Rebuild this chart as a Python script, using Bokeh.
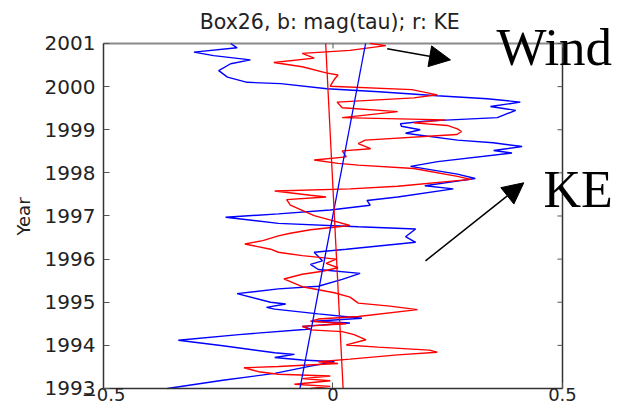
import math
from bokeh.plotting import figure
from bokeh.models import Range1d, FixedTicker, Label, Arrow, NormalHead
from bokeh.embed import file_html
from bokeh.resources import INLINE

# ---- data ----
blue_year = [1993.00, 1993.19, 1993.35, 1993.52, 1993.62, 1993.66, 1993.72, 1993.79, 1993.83, 1993.99,
             1994.12, 1994.25, 1994.38, 1994.44, 1994.52, 1994.56, 1994.63, 1994.73, 1994.84, 1994.88,
             1994.96, 1995.00, 1995.20, 1995.31, 1995.37, 1995.53, 1995.67, 1995.76, 1995.88, 1995.96,
             1996.16, 1996.23, 1996.39, 1996.52, 1996.70, 1996.75, 1996.83, 1996.97, 1997.05, 1997.14,
             1997.25, 1997.36, 1997.44, 1997.63, 1997.70, 1997.81, 1997.87, 1997.97, 1998.15, 1998.26,
             1998.46, 1998.52, 1998.61, 1998.70, 1998.76, 1998.92, 1999.00, 1999.08, 1999.14, 1999.20,
             1999.28, 1999.45, 1999.54, 1999.64, 1999.72, 1999.79, 1999.88, 1999.95, 2000.07, 2000.10,
             2000.22, 2000.37, 2000.53, 2000.62, 2000.72, 2000.80, 2000.90, 2001.00]
blue_val = [-0.361, -0.240, -0.127, -0.049, 0.003, -0.067, -0.127, -0.084, -0.127, -0.240,
            -0.337, -0.205, -0.049, -0.067, 0.037, -0.041, 0.063, -0.032, -0.127, -0.145,
            -0.103, -0.136, -0.209, -0.119, -0.032, 0.020, 0.059, -0.032, -0.049, -0.023,
            -0.041, 0.029, 0.180, 0.158, 0.180, 0.055, -0.119, -0.234, -0.119, -0.006,
            0.081, 0.074, 0.141, 0.262, 0.200, 0.271, 0.310, 0.271, 0.169, 0.228,
            0.390, 0.350, 0.412, 0.349, 0.271, 0.158, 0.190, 0.149, 0.147, 0.200,
            0.358, 0.398, 0.343, 0.408, 0.336, 0.227, 0.100, -0.013, -0.114, -0.187,
            -0.230, -0.249, -0.223, -0.180, -0.260, -0.303, -0.209, -0.223]

red_year = [1993.00, 1993.05, 1993.10, 1993.18, 1993.23, 1993.29, 1993.33, 1993.39, 1993.48, 1993.51,
            1993.58, 1993.62, 1993.68, 1993.78, 1993.84, 1993.89, 1993.96, 1994.01, 1994.13, 1994.25,
            1994.32, 1994.36, 1994.44, 1994.50, 1994.56, 1994.61, 1994.67, 1994.83, 1994.91, 1994.98,
            1995.12, 1995.22, 1995.36, 1995.54, 1995.65, 1995.72, 1995.80, 1995.90, 1996.00, 1996.08,
            1996.16, 1996.23, 1996.35, 1996.43, 1996.54, 1996.60, 1996.68, 1996.78, 1996.88, 1997.01,
            1997.13, 1997.25, 1997.38, 1997.44, 1997.48, 1997.58, 1997.63, 1997.69, 1997.85, 1997.92,
            1998.10, 1998.18, 1998.22, 1998.30, 1998.37, 1998.51, 1998.56, 1998.68, 1998.76, 1998.89,
            1998.96, 1999.02, 1999.10, 1999.16, 1999.23, 1999.28, 1999.42, 1999.51, 1999.64, 1999.74,
            1999.81, 1999.93, 2000.01, 2000.17, 2000.27, 2000.32, 2000.46, 2000.56, 2000.66, 2000.77,
            2000.84, 2000.95, 2001.00]
red_val = [-0.049, -0.006, -0.084, -0.006, -0.067, -0.006, -0.119, -0.162, -0.194, -0.119,
           0.011, -0.032, 0.037, 0.141, 0.227, 0.210, 0.098, 0.029, 0.072, 0.046,
           0.020, -0.049, -0.067, 0.029, -0.049, -0.032, 0.055, 0.184, 0.124, 0.055,
           0.037, 0.003, -0.067, -0.107, -0.067, -0.023, 0.011, -0.015, 0.007, -0.067,
           -0.119, -0.136, -0.192, -0.153, -0.119, -0.093, -0.049, 0.037, 0.003, -0.041,
           -0.067, -0.093, -0.101, -0.015, -0.049, -0.127, 0.037, 0.141, 0.300, 0.271,
           0.176, 0.055, 0.011, -0.041, 0.029, 0.020, 0.082, 0.055, 0.070, 0.270,
           0.280, 0.271, 0.249, 0.176, 0.245, 0.020, 0.141, 0.020, 0.009, 0.176,
           0.227, 0.172, -0.006, 0.003, 0.011, -0.015, -0.067, -0.129, -0.041, -0.067,
           0.037, 0.115, 0.081]

trend_year = [1993, 2001]
blue_trend = [-0.072, 0.071]
red_trend = [0.022, -0.016]

x_ticks = [-0.5, 0, 0.5]
x_tick_labels = ["\u22120.5", "0", "0.5"]
y_ticks = [1993, 1994, 1995, 1996, 1997, 1998, 1999, 2000, 2001]

title_text = "Box26,  b: mag(tau); r: KE"
y_label = "Year"

# axis limits of the plot box (MATLAB axis limits)
x_lo, x_hi = -0.5, 0.5
y_lo, y_hi = 1993, 2001
# the drawing area covers the whole canvas; the axes are pinned to the box edges
x_view_lo, x_view_hi = -0.72440, 0.61329
y_view_lo, y_view_hi = 1992.51304, 2001.99710

FONT = "DejaVu Sans"
TXT = "#222222"

p = figure(width=614, height=409,
           x_range=Range1d(x_view_lo, x_view_hi), y_range=Range1d(y_view_lo, y_view_hi),
           output_backend="svg", toolbar_location=None,
           min_border_left=0, min_border_right=0,
           min_border_top=0, min_border_bottom=0)

p.background_fill_color = "white"
p.border_fill_color = "white"
p.outline_line_color = None
p.xgrid.visible = False
p.ygrid.visible = False

for ax in (p.xaxis[0], p.yaxis[0]):
    ax.major_label_text_font = FONT
    ax.major_label_text_color = TXT
    ax.major_tick_in = 6
    ax.major_tick_out = 0
    ax.minor_tick_in = 0
    ax.minor_tick_out = 0
    ax.axis_line_color = "#333333"
    ax.axis_line_width = 1.5
    ax.major_tick_line_color = "#555555"

p.xaxis.ticker = FixedTicker(ticks=x_ticks)
p.xaxis.bounds = (x_lo, x_hi)
p.xaxis.fixed_location = y_lo
p.xaxis.major_label_overrides = {t: s for t, s in zip(x_ticks, x_tick_labels)}
p.xaxis.major_label_text_font_size = "18px"
p.xaxis.major_label_standoff = 0

p.yaxis.ticker = FixedTicker(ticks=y_ticks)
p.yaxis.bounds = (y_lo, y_hi)
p.yaxis.fixed_location = x_lo
p.yaxis.major_label_text_font_size = "20px"
p.yaxis.major_label_standoff = 8

# right and top edges of the box, with inward ticks
p.segment(x0=[x_hi], y0=[y_lo], x1=[x_hi], y1=[y_hi], line_color="#333333", line_width=1.5)
p.segment(x0=[x_lo], y0=[y_hi], x1=[x_hi], y1=[y_hi], line_color="#8a8a8a", line_width=2)
p.ray(x=[x_hi] * len(y_ticks), y=y_ticks, length=5, length_units="screen",
      angle=math.pi, line_color="#555555", line_width=1)
p.ray(x=x_ticks, y=[y_hi] * len(x_ticks), length=5, length_units="screen",
      angle=-math.pi / 2, line_color="#555555", line_width=1)

# ---- series ----
p.line(blue_val, blue_year, line_color="#0000ff", line_width=1.4)
p.line(red_val, red_year, line_color="#ff0000", line_width=1.4)
p.line(blue_trend, trend_year, line_color="#0000ff", line_width=1.3)
p.line(red_trend, trend_year, line_color="#ff0000", line_width=1.3)

# ---- title and y-axis label ----
p.add_layout(Label(x=(x_lo + x_hi) / 2, y=2001.494, text=title_text, text_font=FONT,
                   text_font_size="20.5px", text_color=TXT,
                   text_align="center", text_baseline="middle"))
p.add_layout(Label(x=-0.67429, y=1996.9884, text=y_label, text_font=FONT,
                   text_font_size="18px", text_color=TXT, angle=math.pi / 2,
                   text_align="center", text_baseline="middle"))

# ---- annotations ----
p.add_layout(Arrow(end=NormalHead(size=21, fill_color="black", line_color="black"),
                   x_start=0.118, y_start=2000.877, x_end=0.256, y_end=2000.62,
                   line_color="black", line_width=1.5))
p.add_layout(Arrow(end=NormalHead(size=21, fill_color="black", line_color="black"),
                   x_start=0.2015, y_start=1995.96, x_end=0.4157, y_end=1997.77,
                   line_color="black", line_width=1.5))

p.add_layout(Label(x=0.3562, y=2000.930, text="Wind", text_font="Liberation Serif",
                   text_font_size="53px", text_color="black",
                   text_align="left", text_baseline="middle"))
p.add_layout(Label(x=0.4586, y=1997.608, text="KE", text_font="Liberation Serif",
                   text_font_size="52px", text_color="black",
                   text_align="left", text_baseline="middle"))

open("out.html", "w").write(file_html(p, INLINE))
